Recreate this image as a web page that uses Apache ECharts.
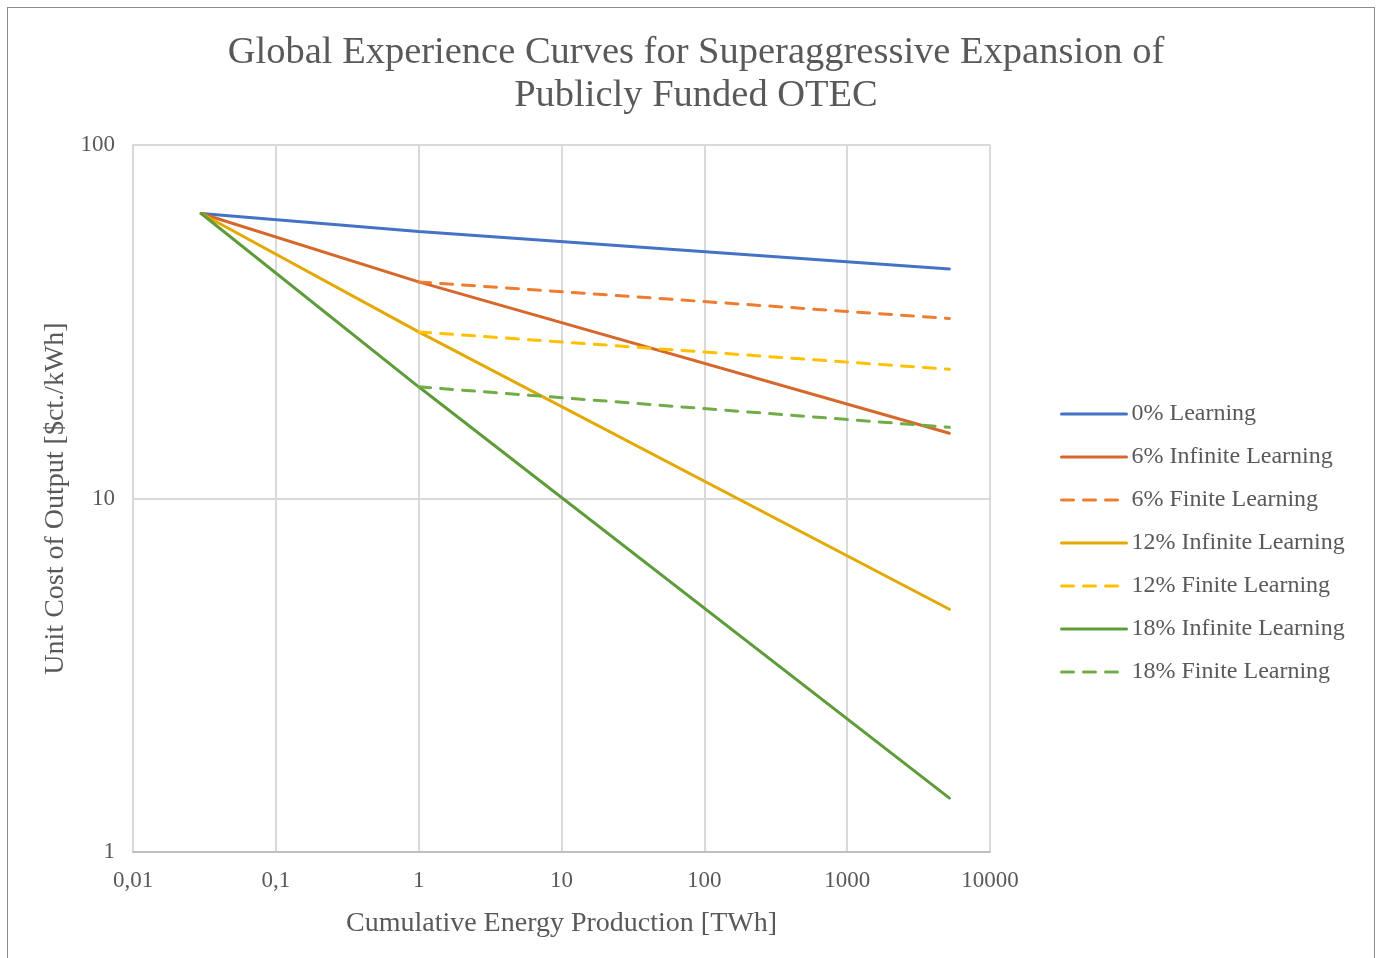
<!DOCTYPE html>
<html>
<head>
<meta charset="utf-8">
<script src="https://cdn.jsdelivr.net/npm/echarts@6/dist/echarts.min.js"></script>
<style>
html,body{margin:0;padding:0;background:#fff;}
#frame{position:absolute;left:7px;top:7px;width:1368px;height:960px;border:1.5px solid #8c8c8c;border-bottom:none;box-sizing:border-box;}
#chart{position:absolute;left:0;top:0;width:1380px;height:958px;}
</style>
</head>
<body>
<div id="frame"></div>
<div id="chart"></div>
<script>
// Data
const seriesNames = ['0% Learning','6% Infinite Learning','6% Finite Learning','12% Infinite Learning','12% Finite Learning','18% Infinite Learning','18% Finite Learning'];
const xInfinite = [0.03, 1, 5200];
const xFinite = [1, 5200];
const learn0 = [64, 56.9, 44.6];
const inf6 = [64, 41.0, 15.3];
const fin6 = [41.0, 32.3];
const inf12 = [64, 29.6, 4.86];
const fin12 = [29.6, 23.2];
const inf18 = [64, 20.7, 1.42];
const fin18 = [20.7, 15.9];
const xTickLabels = ['0,01','0,1','1','10','100','1000','10000'];
const yTickLabels = ['1','10','100'];

const FONT = 'Liberation Serif';
const colors = ['#4472C4','#D5682A','#ED7D31','#E3A900','#FFC000','#5E9C3A','#70AD47'];
const dash = [12, 10];

function pairs(xs, ys){ return xs.map((x,i)=>[x, ys[i]]); }
const datasets = [
  pairs(xInfinite, learn0), pairs(xInfinite, inf6), pairs(xFinite, fin6),
  pairs(xInfinite, inf12), pairs(xFinite, fin12), pairs(xInfinite, inf18), pairs(xFinite, fin18)
];
const dashed = [false,false,true,false,true,false,true];

const chart = echarts.init(document.getElementById('chart'), null, {renderer:'canvas'});
chart.setOption({
  backgroundColor: 'transparent',
  animation: false,
  title: {
    text: 'Global Experience Curves for Superaggressive Expansion of\nPublicly Funded OTEC',
    left: 691, top: 26, textAlign: 'center',
    textStyle: {fontFamily: FONT, fontSize: 38.5, fontWeight: 'normal', color: '#595959', lineHeight: 43}
  },
  legend: {
    orient: 'vertical', left: 1055, top: 397,
    itemWidth: 65, itemHeight: 14, itemGap: 19,
    data: seriesNames,
    itemStyle: {opacity: 0},
    lineStyle: {width: 3},
    textStyle: {fontFamily: FONT, fontSize: 24, color: '#595959'}
  },
  grid: {left: 133, right: 390, top: 145, bottom: 106, containLabel: false},
  xAxis: {
    type: 'log', logBase: 10, min: 0.01, max: 10000,
    name: 'Cumulative Energy Production [TWh]', nameLocation: 'middle', nameGap: 58,
    nameTextStyle: {fontFamily: FONT, fontSize: 28, color: '#595959'},
    axisLine: {show: true, lineStyle: {color: '#bfbfbf', width: 2}},
    axisTick: {show: false},
    axisLabel: {fontFamily: FONT, fontSize: 23, color: '#595959', margin: 17,
      formatter: v => xTickLabels[Math.round(Math.log10(v)) + 2]},
    splitLine: {show: true, lineStyle: {color: '#d9d9d9', width: 2}},
    minorTick: {show: false}
  },
  yAxis: {
    type: 'log', logBase: 10, min: 1, max: 100,
    name: 'Unit Cost of Output [$ct./kWh]', nameLocation: 'middle', nameGap: 63,
    nameTextStyle: {fontFamily: FONT, fontSize: 28, color: '#595959'},
    axisLine: {show: true, lineStyle: {color: '#d9d9d9', width: 2}},
    axisTick: {show: false},
    axisLabel: {fontFamily: FONT, fontSize: 23, color: '#595959', margin: 18,
      formatter: v => yTickLabels[Math.round(Math.log10(v))]},
    splitLine: {show: true, lineStyle: {color: '#d9d9d9', width: 2}}
  },
  series: seriesNames.map((n, i) => ({
    name: n, type: 'line', data: datasets[i], symbol: 'none', silent: true,
    lineStyle: {color: colors[i], width: 3, type: dashed[i] ? dash : 'solid', cap: 'round'},
    itemStyle: {color: colors[i]},
    z: 2 + i
  }))
});
</script>
</body>
</html>
